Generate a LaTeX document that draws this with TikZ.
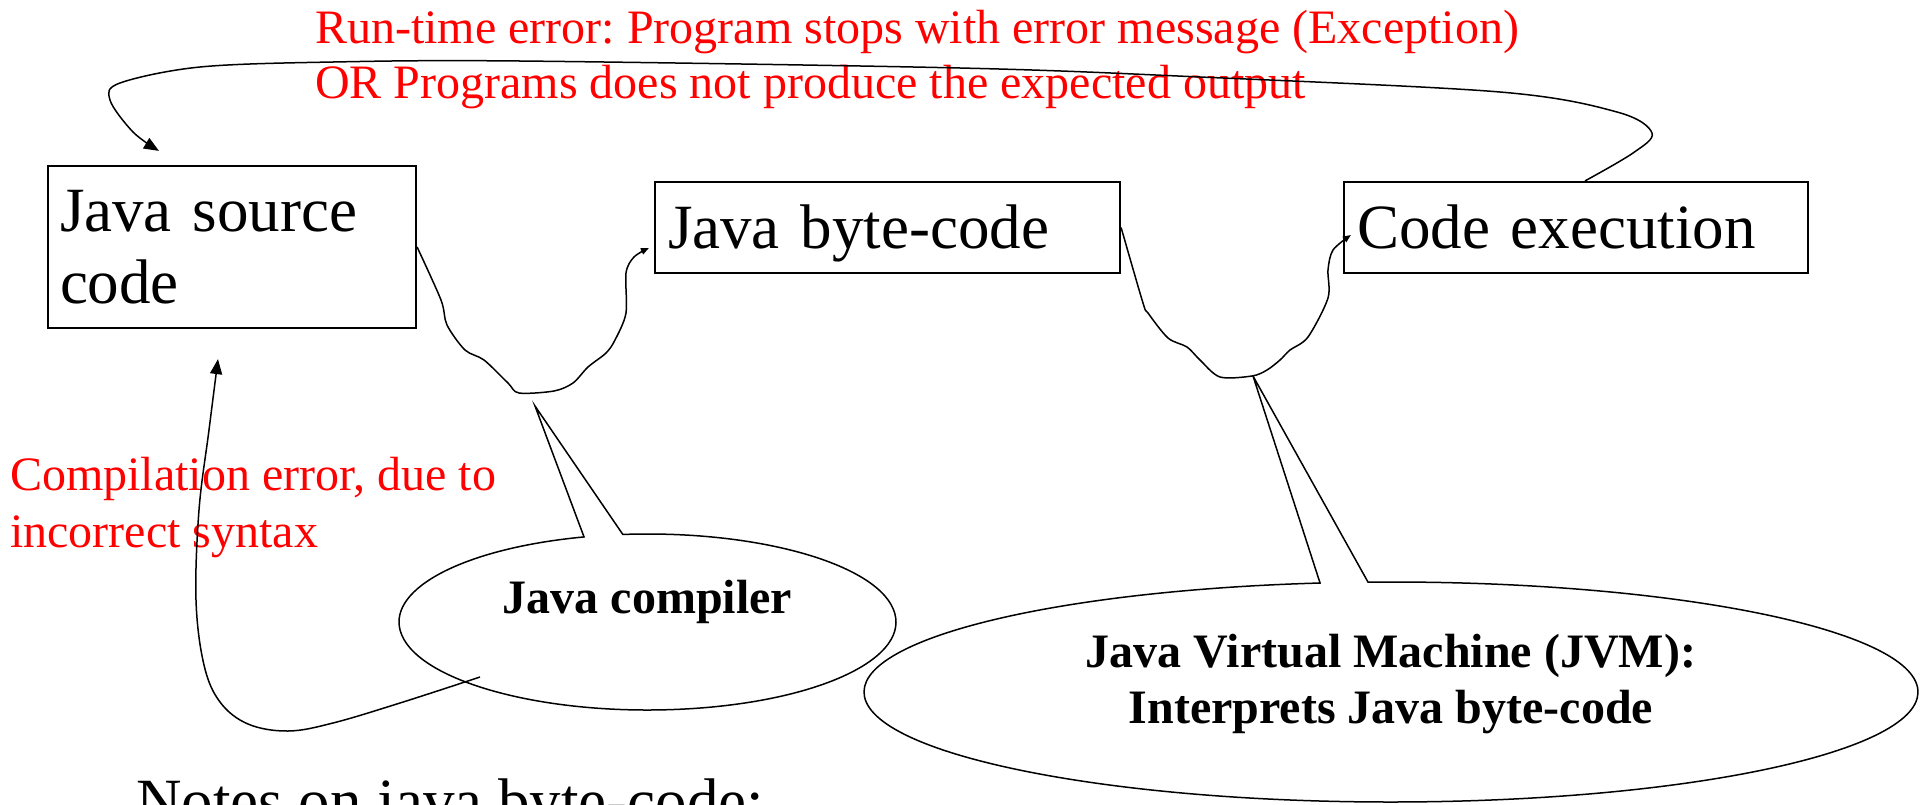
\documentclass[tikz,border=0pt]{standalone}
\usepackage{fontspec}
\setmainfont{Liberation Serif}
\usetikzlibrary{arrows.meta,shapes.geometric,calc}
\frenchspacing
\begin{document}
\begin{tikzpicture}[x=1pt,y=-1pt,
  jbox/.style={draw, line width=2.2pt, rectangle, inner ysep=0pt, align=left,
               font=\fontsize{63}{72}\selectfont},
  wire/.style={line width=1.5pt},
  redtext/.style={text=red, inner sep=0pt, align=left, font=\fontsize{48}{55}\selectfont},
  bubble/.style={ellipse, inner sep=0pt, align=center, font=\bfseries\fontsize{48}{56}\selectfont},
  bigtip/.style={-{Triangle[length=15pt,width=12pt]}},
  smalltip/.style={-{Triangle[length=8pt,width=6.5pt]}},
]
\useasboundingbox (0,0) rectangle (1920,804);
\clip (0,0) rectangle (1920,804);

% boxes
\node[jbox, minimum width=368pt, minimum height=162pt, text width=344pt, inner xsep=12pt]
  (src) at (232,247) {Java source\\code};
\node[jbox, minimum width=465pt, minimum height=91pt, text width=439pt, inner xsep=13pt,
  text height=43pt, text depth=2pt] (byte) at (887.5,227.5) {Java byte-code};
\node[jbox, minimum width=464pt, minimum height=91pt, text width=438pt, inner xsep=13pt,
  text height=43pt, text depth=2pt] (exec) at (1576,227.5) {Code execution};

% callout bubbles
\node[bubble, minimum width=497pt, minimum height=176pt, text height=33pt, text depth=51pt]
  (comp) at (647.5,622) {Java compiler};
\node[bubble, minimum width=1054pt, minimum height=220pt, text height=72pt, text depth=10pt]
  (jvm) at (1391,692) {Java Virtual Machine (JVM):\\Interprets Java byte-code};

\coordinate (comptip) at (535,406);
\coordinate (jvmtip) at (1253,376);
\draw[wire] ($(comp.center)+(-95.7:248.5 and 88)$)
  arc[start angle=-95.7, end angle=255.2, x radius=248.5, y radius=88] -- (comptip) -- cycle;
\draw[wire] ($(jvm.center)+(-92.5:527 and 110)$)
  arc[start angle=-92.5, end angle=262.26, x radius=527, y radius=110] -- (jvmtip) -- cycle;

% red texts (anchor = baseline of the last line)
\node[redtext, anchor=base west] (rterr) at (315,98)
  {Run-time error: Program stops with error message (Exception)\\OR Programs does not produce the expected output};
\node[redtext, anchor=base west, font=\fontsize{48}{57}\selectfont] (cerr) at (10,547)
  {Compilation error, due to\\incorrect syntax};

% notes
\node[anchor=base west, inner sep=0pt, font=\fontsize{63}{72}\selectfont] (notes) at (136,822)
  {Notes on java byte-code:};

% connector end points
\coordinate (b1end) at ($(byte.west)+(-5,20.5)$);
\coordinate (b2end) at ($(exec.west)+(8,7.5)$);
\coordinate (rtstart) at ($(exec.north)+(9,0)$);
\coordinate (rtend) at ($(src.north)+(-73,-14)$);
\coordinate (cestart) at ($(comp.center)+(-167.5,55)$);
\coordinate (ceend) at ($(src.south)+(-14,30)$);

% wavy connectors (compile / interpret)
\draw[wire, smalltip] plot[smooth, tension=0.5] coordinates {(src.east) (441,300) (447,325)
  (465,350) (484,360) (508,383) (519,393) (554,391) (573,383) (588,367) (606,353) (615,340)
  (626,313) (626,273) (634,257) (b1end)};
\draw[wire, smalltip] plot[smooth, tension=0.5] coordinates {(byte.east) (1143,303) (1148,313)
  (1168,338) (1187,347) (1200,360) (1220,377) (1252,376) (1267,370) (1280,360) (1290,350)
  (1308,337) (1328,298) (1328,270) (1333,250) (b2end)};

% run-time error loop
\draw[wire, bigtip] plot[smooth, tension=0.55] coordinates {(rtstart) (1633,153) (1652,133)
  (1617,112) (1500,92) (1200,77) (960,68) (520,61) (333,62) (200,67) (120,83) (110,100)
  (133,132) (rtend)};

% compilation error loop
\draw[wire, bigtip] plot[smooth, tension=0.6] coordinates {(cestart) (400,703) (333,723)
  (288,731) (248,724) (220,702) (204,665) (196,600) (199,510) (209,430) (ceend)};
\end{tikzpicture}
\end{document}
